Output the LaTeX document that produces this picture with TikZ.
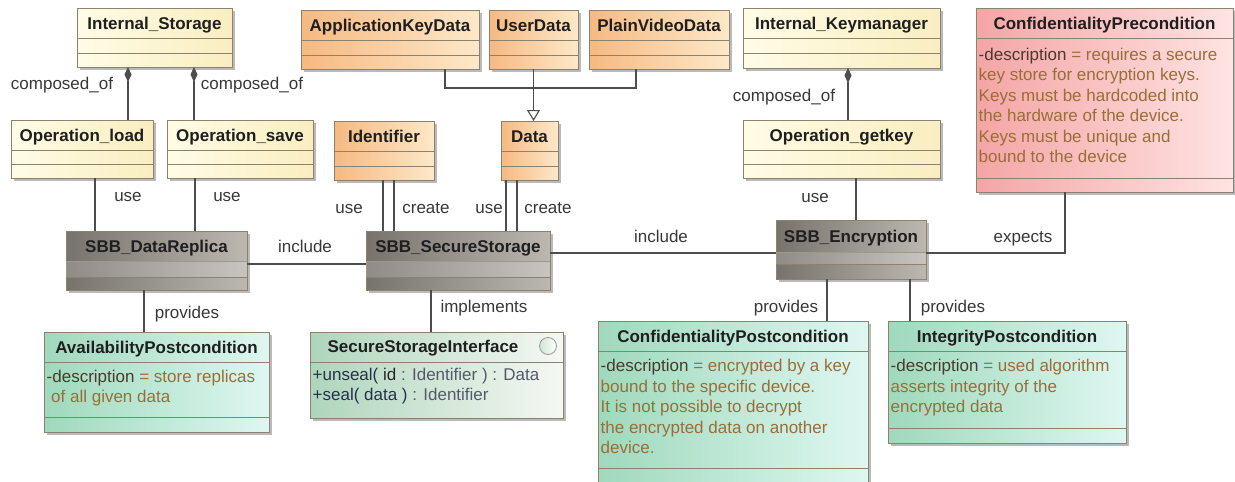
\documentclass[tikz,border=0pt]{standalone}
\usepackage{fontspec}
\setmainfont{Liberation Sans}
\usetikzlibrary{arrows.meta,shadows}

\definecolor{lineC}{HTML}{4D4D4D}
\definecolor{borderC}{HTML}{8C826E}
\definecolor{yelL}{HTML}{FFFCE6}
\definecolor{yelR}{HTML}{F9EEC0}
\definecolor{orL}{HTML}{F6B982}
\definecolor{orR}{HTML}{FDE8C8}
\definecolor{grL}{HTML}{78726D}
\definecolor{grR}{HTML}{BCB7B1}
\definecolor{gnL}{HTML}{9FD9BC}
\definecolor{gnR}{HTML}{DEF7F1}
\definecolor{ifL}{HTML}{AED5BC}
\definecolor{ifR}{HTML}{F5F8F3}
\definecolor{rdL}{HTML}{F4A5A5}
\definecolor{rdR}{HTML}{FFE3E3}
\definecolor{keyC}{HTML}{4A3A2E}
\definecolor{valC}{HTML}{9A6E38}
\definecolor{opC}{HTML}{27304F}
\definecolor{typC}{HTML}{55596A}

\tikzset{
  cls/.style={draw=borderC, line width=0.9pt, inner sep=0pt, outer sep=0pt,
    drop shadow={shadow xshift=3pt, shadow yshift=-3pt, fill=black!45, opacity=0.6}},
  yel/.style={cls, left color=yelL, right color=yelR},
  org/.style={cls, left color=orL, right color=orR},
  gry/.style={cls, left color=grL, right color=grR},
  grn/.style={cls, left color=gnL, right color=gnR},
  ifc/.style={cls, left color=ifL, right color=ifR},
  red/.style={cls, left color=rdL, right color=rdR},
  title/.style={font=\bfseries\fontsize{17}{20}\selectfont, text=black!88,
    inner sep=0pt, text height=12.2pt, text depth=0pt},
  body/.style={font=\fontsize{17}{20.5}\selectfont, align=left, anchor=north west,
    inner sep=0pt, text=valC},
  lbl/.style={font=\fontsize{17}{20}\selectfont, text=black!78, inner sep=0pt,
    text height=12.4pt, text depth=3.6pt},
  conn/.style={draw=lineC, line width=1.1pt},
  sepl/.style={draw=borderC, line width=0.9pt},
  comp/.style={conn, {Diamond[length=15pt,width=7pt]}-},
  gen/.style={conn, -{Triangle[open,length=11pt,width=13pt,fill=white]}},
}

% class box: name, style, x1, y1, x2, y2, first compartment line, title
\newcommand\umlbox[8]{%
  \node[#2, minimum width={(#5-#3)*1pt}, minimum height={(#6-#4)*1pt}] (#1)
    at ({(#3+#5)/2},{(#4+#6)/2}) {};
  \draw[sepl] (#1.west |- 0,#7) -- (#1.east |- 0,#7);
  \node[title] (#1-t) at ({(#3+#5)/2},{(#4+#7)/2}) {#8};
}
% further compartment line of a class box
\newcommand\compline[2]{\draw[sepl] (#1.west |- 0,#2) -- (#1.east |- 0,#2);}
% lighter attribute band of a building block
\newcommand\band[3]{\fill[white, opacity=0.18] (#1.west |- 0,#2) rectangle (#1.east |- 0,#3);}
\newcommand\desckey{\textcolor{keyC}{-description}}

\begin{document}
\begin{tikzpicture}[x=1pt, y=-1pt]
\useasboundingbox (0,0) rectangle (1235,482);
\clip (0,0) rectangle (1235,482);
\fill[white] (0,0) rectangle (1235,482);

% ---- storage side
\umlbox{IS}{yel}{77}{8}{232}{67}{38}{Internal\_Storage}
\compline{IS}{53}
\umlbox{OL}{yel}{11}{120}{153}{178}{150}{Operation\_load}
\compline{OL}{164}
\umlbox{OS}{yel}{167}{120}{313}{178}{150}{Operation\_save}
\compline{OS}{164}

% ---- data types
\umlbox{AKD}{org}{301}{10}{479}{69}{40}{ApplicationKeyData}
\compline{AKD}{55}
\umlbox{UD}{org}{489}{10}{578}{69}{40}{UserData}
\compline{UD}{55}
\umlbox{PVD}{org}{589}{10}{729}{69}{40}{PlainVideoData}
\compline{PVD}{55}
\umlbox{ID}{org}{334}{121}{434}{180}{151}{Identifier}
\compline{ID}{166}
\umlbox{DATA}{org}{501}{121}{558}{180}{151}{Data}
\compline{DATA}{166}

% ---- key management
\umlbox{IKM}{yel}{743}{8}{940}{68}{38}{Internal\_Keymanager}
\compline{IKM}{53}
\umlbox{OGK}{yel}{743}{120}{940}{178}{150}{Operation\_getkey}
\compline{OGK}{164}

% ---- precondition
\umlbox{CPre}{red}{976}{8}{1233}{192}{38}{ConfidentialityPrecondition}
\compline{CPre}{178}
\node[body] (CPre-d) at (978.5,47.5) {\desckey{} = requires a secure\\
  key store for encryption keys.\\ Keys must be hardcoded into\\
  the hardware of the device.\\ Keys must be unique and\\ bound to the device};

% ---- building blocks
\umlbox{SDR}{gry}{66}{231}{247}{290}{261}{SBB\_DataReplica}
\band{SDR}{261}{277}\compline{SDR}{277}
\umlbox{SSS}{gry}{366}{231}{550}{290}{261}{SBB\_SecureStorage}
\band{SSS}{261}{277}\compline{SSS}{277}
\umlbox{SE}{gry}{776}{220}{926}{279}{252}{SBB\_Encryption}
\band{SE}{252}{264}\compline{SE}{264}

% ---- postconditions and interface
\umlbox{AP}{grn}{44}{332}{269}{432}{362}{AvailabilityPostcondition}
\compline{AP}{417}
\node[body] (AP-d) at (46.5,369.6) {\desckey{} = store replicas\\
  \hspace*{4.5pt}of all given data};

\umlbox{SSI}{ifc}{310}{332}{563}{418}{362}{}
\node[title] (SSI-n) at (423,346) {SecureStorageInterface};
\node[circle, draw=black!40, line width=0.8pt, minimum size=17pt, inner sep=0pt,
  left color=ifL!60, right color=white] (SSI-c) at (548,346) {};
\node[body, text=typC] (SSI-o) at (312.5,367.6)
  {\textcolor{opC}{+unseal(} \textcolor{black!85}{id} : Identifier ) : Data\\
   \textcolor{opC}{+seal( data )} : Identifier};

\umlbox{CPost}{grn}{598}{321}{868}{500}{351}{ConfidentialityPostcondition}
\compline{CPost}{468}
\node[body] (CPost-d) at (600.5,359) {\desckey{} = encrypted by a key\\
  bound to the specific device.\\ It is not possible to decrypt\\
  the encrypted data on another\\ device.};

\umlbox{IP}{grn}{888}{321}{1126}{443}{351}{IntegrityPostcondition}
\compline{IP}{428}
\node[body] (IP-d) at (890.5,359) {\desckey{} = used algorithm\\
  asserts integrity of the\\ encrypted data};

% ---- connectors
\draw[comp] (IS.south -| 128,0) -- (OL.north -| 128,0);
\draw[comp] (IS.south -| 194,0) -- (OS.north -| 194,0);
\draw[comp] (IKM.south -| 848,0) -- (OGK.north -| 848,0);

\draw[gen] (UD.south) -- (DATA.north -| UD.south);
\draw[conn] (AKD.south -| 445,0) -- ++(0,19) -| (PVD.south -| 636,0);

\draw[conn] (OL.south -| 95,0) -- (SDR.north -| 95,0);
\draw[conn] (OS.south -| 195,0) -- (SDR.north -| 195,0);
\draw[conn] (ID.south -| 383,0) -- (SSS.north -| 383,0);
\draw[conn] (ID.south -| 394,0) -- (SSS.north -| 394,0);
\draw[conn] (DATA.south -| 506,0) -- (SSS.north -| 506,0);
\draw[conn] (DATA.south -| 517,0) -- (SSS.north -| 517,0);
\draw[conn] (OGK.south -| 856,0) -- (SE.north -| 856,0);

\draw[conn] (SDR.east |- 0,264) -- (SSS.west |- 0,264);
\draw[conn] (SSS.east |- 0,253) -- (SE.west |- 0,253);
\draw[conn] (SE.east |- 0,253) -| (CPre.south -| 1065,0);

\draw[conn] (SDR.south -| 144,0) -- (AP.north -| 144,0);
\draw[conn] (SSS.south -| 431,0) -- (SSI.north -| 431,0);
\draw[conn] (SE.south -| 827,0) -- (CPost.north -| 827,0);
\draw[conn] (SE.south -| 910,0) -- (IP.north -| 910,0);

% ---- connector labels
\node[lbl] (l-co1) at (62,85) {composed\_of};
\node[lbl] (l-co2) at (252,85) {composed\_of};
\node[lbl] (l-co3) at (784,97) {composed\_of};
\node[lbl] (l-u1) at (128,197) {use};
\node[lbl] (l-u2) at (227,197) {use};
\node[lbl] (l-u3) at (349,209) {use};
\node[lbl] (l-c1) at (426,209) {create};
\node[lbl] (l-u4) at (489,209) {use};
\node[lbl] (l-c2) at (548,209) {create};
\node[lbl] (l-u5) at (815,198) {use};
\node[lbl] (l-in1) at (305,248) {include};
\node[lbl] (l-in2) at (661,238) {include};
\node[lbl] (l-ex) at (1023,238) {expects};
\node[lbl] (l-pr1) at (187,314) {provides};
\node[lbl] (l-im) at (484,308) {implements};
\node[lbl] (l-pr2) at (786,308) {provides};
\node[lbl] (l-pr3) at (953,308) {provides};
\end{tikzpicture}
\end{document}
